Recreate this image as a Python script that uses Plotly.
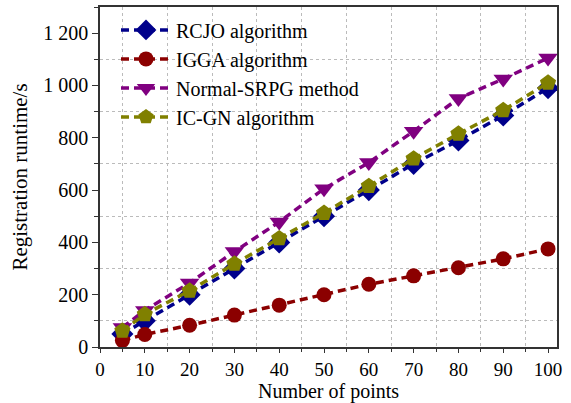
import plotly.graph_objects as go

x_points = [5, 10, 20, 30, 40, 50, 60, 70, 80, 90, 100]
rcjo = [50, 100, 200, 300, 400, 500, 600, 700, 790, 885, 990]
igga = [25, 48, 83, 122, 160, 200, 240, 272, 303, 337, 375]
srpg = [75, 140, 245, 365, 478, 605, 705, 825, 950, 1025, 1105]
icgn = [62, 125, 215, 318, 415, 512, 615, 720, 815, 905, 1010]

series = [
    ("RCJO algorithm", rcjo, "#00008B", "diamond", 17),
    ("IGGA algorithm", igga, "#8B0000", "circle", 15),
    ("Normal-SRPG method", srpg, "#800080", "triangle-down", 17),
    ("IC-GN algorithm", icgn, "#808000", "pentagon", 17),
]

FONT = "Liberation Serif"
fig = go.Figure()
for name, ys, color, sym, size in series:
    fig.add_trace(go.Scatter(
        x=x_points, y=ys, name=name, mode="lines+markers",
        line=dict(color=color, width=3.5, dash="8px,5px"),
        marker=dict(symbol=sym, size=size, color=color, line=dict(width=0)),
    ))

axis_common = dict(showline=True, linecolor="#333", linewidth=1.5, mirror=True,
                   zeroline=False, showgrid=False, ticks="outside",
                   tickcolor="#333", tickwidth=1.2)

fig.update_layout(
    width=571, height=403,
    margin=dict(l=100, r=14, t=7, b=56),
    paper_bgcolor="white", plot_bgcolor="white",
    separators=". ",
    font=dict(family=FONT, size=20, color="black"),
    showlegend=True,
    legend=dict(x=0.035, y=0.99, xanchor="left", yanchor="top",
                bgcolor="rgba(0,0,0,0)", font=dict(family=FONT, size=20),
                itemwidth=50, tracegroupgap=0),
    xaxis=dict(range=[0, 102], dtick=10, tick0=0, ticklen=4, automargin=False,
               tickfont=dict(family=FONT, size=19, color="black"),
               minor=dict(dtick=5, ticks="outside", ticklen=3, tickcolor="#333",
                          showgrid=True, gridcolor="#bbb", griddash="dot", gridwidth=1),
               title=dict(text="Number of points", font=dict(family=FONT, size=20)),
               **axis_common),
    yaxis=dict(range=[0, 1300], dtick=200, tick0=0, tickformat=",d", ticklen=6, automargin=True,
               tickfont=dict(family=FONT, size=20, color="black"),
               minor=dict(dtick=100, ticks="outside", ticklen=4, tickcolor="#333",
                          showgrid=True, gridcolor="#bbb", griddash="dot", gridwidth=1),
               title=dict(text="Registration runtime/s", font=dict(family=FONT, size=21), standoff=10),
               **axis_common),
    xaxis2=dict(range=[0, 102], overlaying="x", side="top", anchor="y", dtick=5, tick0=0,
                ticks="inside", ticklen=6, tickcolor="#333", tickwidth=1.2, automargin=False,
                showticklabels=False, showgrid=False, zeroline=False, showline=False),
    yaxis2=dict(range=[0, 1300], overlaying="y", side="right", anchor="x", dtick=100, tick0=0,
                ticks="inside", ticklen=6, tickcolor="#333", tickwidth=1.2, automargin=False,
                showticklabels=False, showgrid=False, zeroline=False, showline=False),
)

fig.write_html("out.html")
